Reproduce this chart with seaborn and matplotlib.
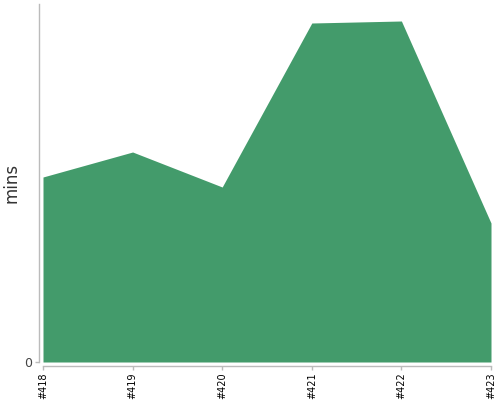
import matplotlib
matplotlib.use("Agg")
import matplotlib.pyplot as plt
import seaborn as sns
import numpy as np

categories = ["#418", "#419", "#420", "#421", "#422", "#423"]
values = [18.5, 21.0, 17.5, 33.9, 34.1, 13.9]

sns.set_theme(style="white")
plt.rcParams['font.family'] = ['DejaVu Sans']

fig = plt.figure(figsize=(5, 4), dpi=100)
ax = fig.add_axes([43/500, 38/400, 448/500, 358/400])
x = np.arange(len(categories))
ax.fill_between(x, 0, values, color="#439b6b", linewidth=0)
ax.set_xlim(0, len(categories) - 1)
ax.set_ylim(0, 35.8)
sns.despine(ax=ax, offset=3)
ax.set_xticks(x)
ax.set_xticklabels(categories, fontsize=7, color="#000000")
ax.set_yticks([0])
ax.set_yticklabels(["0"], fontsize=9, color="#444444")
ax.set_ylabel("mins", fontsize=12, color="#333333")
ax.yaxis.set_label_coords(-0.05, 0.5)
for s in ["left", "bottom"]:
    ax.spines[s].set_color("#bbbbbb")
    ax.spines[s].set_linewidth(1)
ax.tick_params(axis="both", which="both", length=3, width=1, color="#bbbbbb", pad=1.5)
ax.tick_params(axis="x", bottom=True, labelrotation=90)
ax.tick_params(axis="y", left=True)
fig.savefig("out.png", dpi=100)
